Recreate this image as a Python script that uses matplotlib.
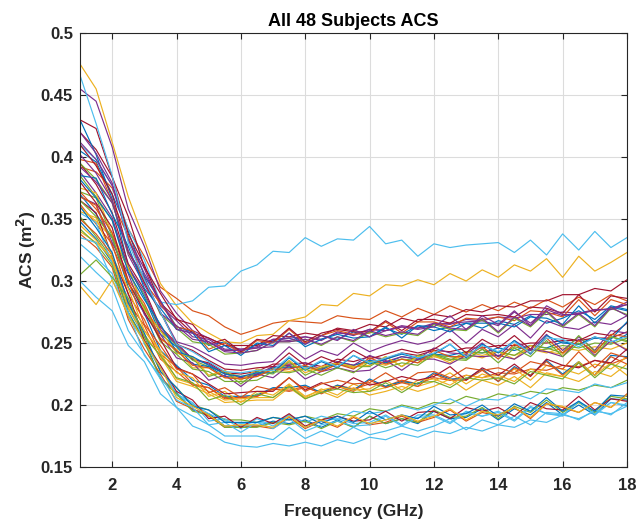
import matplotlib
matplotlib.use("Agg")
import matplotlib.pyplot as plt
from matplotlib.ticker import FuncFormatter

plt.rcParams['font.family'] = ['Liberation Sans', 'DejaVu Sans']

# Frequency grid (GHz)
freq = [1.0, 1.5, 2.0, 2.5, 3.0, 3.5, 4.0, 4.5, 5.0, 5.5, 6.0, 6.5, 7.0, 7.5, 8.0, 8.5,
        9.0, 9.5, 10.0, 10.5, 11.0, 11.5, 12.0, 12.5, 13.0, 13.5, 14.0, 14.5, 15.0, 15.5,
        16.0, 16.5, 17.0, 17.5, 18.0]

# ACS per subject, in units of 1e-3 m^2
s01 = [405,396,370,340,304,284,263,259,248,251,243,249,252,254,249,256,253,259,255,262,257,264,260,263,266,262,268,265,272,266,270,276,269,280,277]
s02 = [392,388,375,342,320,295,286,276,272,263,257,261,266,268,267,266,272,270,269,276,271,278,273,280,275,281,276,283,278,285,279,287,281,289,284]
s03 = [475,455,412,368,333,298,280,266,258,251,250,256,257,268,271,281,280,290,288,297,296,301,297,306,300,309,303,313,308,318,303,320,308,315,323]
s04 = [455,445,408,358,328,292,274,260,254,248,245,247,253,254,255,253,258,257,261,260,263,262,265,266,267,268,264,275,266,277,272,274,276,278,281]
s05 = [385,368,349,310,289,260,248,236,231,226,223,225,230,231,231,229,234,232,235,234,237,236,240,239,237,245,239,247,244,245,248,246,250,249,254]
s06 = [410,398,377,342,317,283,281,284,295,296,308,313,324,323,335,328,334,333,344,330,333,320,330,327,329,330,331,323,333,321,338,325,340,327,335]
s07 = [420,406,384,338,313,282,270,258,254,248,248,248,256,255,258,256,262,260,265,263,270,267,273,271,277,275,280,279,284,284,289,289,294,292,301]
s08 = [430,402,366,312,287,257,247,233,231,223,222,224,230,230,231,228,235,232,236,234,239,237,241,240,243,242,246,244,248,246,251,249,255,250,257]
s09 = [362,346,330,289,269,241,231,217,214,205,206,207,213,211,214,210,216,213,217,215,220,217,222,220,224,222,226,225,229,228,232,231,236,233,238]
s10 = [360,348,335,298,280,253,245,230,230,222,222,223,229,227,230,227,233,230,235,232,237,234,239,236,241,238,243,240,245,242,246,244,247,245,250]
s11 = [412,398,377,334,310,280,268,255,253,245,245,246,253,252,255,252,259,256,261,260,264,262,266,265,269,268,271,270,273,273,275,274,277,277,283]
s12 = [352,336,318,278,255,227,214,200,196,188,188,186,190,188,191,188,193,191,197,195,200,197,202,201,207,204,209,207,211,209,214,212,216,214,220]
s13 = [300,287,276,248,235,209,198,183,178,170,167,166,169,167,170,167,172,169,174,172,177,174,179,177,182,179,184,182,188,186,192,189,195,193,199]
s14 = [395,378,355,314,293,263,250,237,234,226,225,227,233,233,234,231,237,235,239,237,242,240,244,243,246,246,248,248,250,250,252,252,254,254,259]
s15 = [348,334,315,275,252,222,210,196,193,183,183,183,187,185,188,182,188,182,191,185,189,185,195,189,190,197,188,197,192,202,192,200,192,205,204]
s16 = [398,395,364,336,299,282,263,260,245,250,242,252,250,261,250,256,260,257,258,267,258,267,267,263,270,269,271,268,276,275,271,285,272,285,281]
s17 = [340,331,319,280,260,242,221,217,211,204,205,206,206,216,206,213,208,217,211,214,219,215,219,226,217,225,221,229,220,232,229,225,233,229,239]
s18 = [388,371,351,311,291,261,249,237,233,225,222,225,231,232,234,229,235,232,240,235,239,237,246,242,241,250,239,252,244,257,244,255,244,260,258]
s19 = [372,367,336,310,277,260,242,238,223,227,217,227,225,235,224,230,233,231,231,239,231,240,240,236,243,242,243,240,248,246,242,256,243,255,251]
s20 = [330,319,306,271,251,230,208,201,193,187,185,186,185,192,186,191,188,195,193,195,199,196,200,205,199,205,204,209,205,213,212,210,217,214,218]
s21 = [430,423,384,352,311,290,269,265,249,253,243,253,251,262,251,258,261,259,259,268,260,269,269,266,273,272,273,271,279,278,274,289,275,288,286]
s22 = [370,354,335,295,274,244,232,220,216,207,207,208,214,214,216,210,216,212,221,215,219,217,226,221,221,229,219,231,224,236,225,235,224,240,239]
s23 = [338,327,311,269,245,225,203,197,191,182,182,183,181,190,181,187,182,190,184,186,191,186,190,196,187,194,191,198,189,201,198,194,202,198,209]
s24 = [375,371,338,311,277,260,242,239,224,228,220,229,226,236,226,231,234,231,232,239,231,239,240,234,243,240,243,237,248,243,241,252,242,251,245]
s25 = [402,387,365,321,297,275,251,247,240,233,232,234,235,247,237,244,240,250,243,248,252,249,252,261,250,261,255,265,254,268,263,261,267,265,272]
s26 = [395,382,363,323,302,273,262,251,249,241,242,244,251,251,253,248,255,251,259,255,258,256,265,261,260,269,258,270,263,275,263,273,263,278,273]
s27 = [355,347,314,286,249,230,209,202,187,189,181,189,183,192,182,187,189,185,186,192,184,192,192,186,195,191,195,188,199,193,192,203,193,202,199]
s28 = [410,393,370,324,299,275,249,244,236,229,228,230,231,242,232,239,234,244,237,241,245,242,245,253,242,253,246,256,245,260,254,252,258,256,266]
s29 = [385,383,354,328,294,278,261,258,243,248,240,250,248,258,247,253,257,254,255,263,254,264,263,259,266,266,266,263,271,270,265,280,266,279,276]
s30 = [350,338,321,283,264,237,227,216,214,206,206,207,213,212,215,209,215,211,220,214,218,215,225,220,220,228,219,230,224,235,224,234,224,239,233]
s31 = [345,333,317,278,257,239,219,215,209,202,203,204,204,214,205,211,206,214,208,211,215,211,215,221,212,220,216,223,214,226,223,219,227,223,233]
s32 = [368,362,331,306,273,257,238,234,220,224,215,225,222,232,221,227,230,227,228,236,228,237,237,233,240,239,240,237,245,243,239,253,240,252,244]
s33 = [342,330,313,274,251,221,209,195,192,182,182,182,186,184,187,181,187,182,191,185,189,186,196,190,191,198,189,199,194,204,194,202,194,207,205]
s34 = [320,307,295,260,241,221,198,191,184,175,175,175,172,182,173,179,174,182,176,179,183,179,183,189,180,188,184,191,184,194,193,188,196,192,202]
s35 = [365,355,320,290,252,232,211,204,189,191,182,190,185,193,183,188,191,187,188,195,187,194,195,189,198,195,198,191,202,197,196,207,196,205,203]
s36 = [382,367,349,307,285,265,243,239,232,225,223,226,226,238,228,235,230,240,233,237,241,238,241,249,238,249,242,252,241,256,250,249,254,253,267]
s37 = [372,358,339,301,282,254,244,232,230,222,221,223,229,229,232,227,233,229,238,233,237,234,244,239,239,247,237,249,242,254,242,252,242,257,255]
s38 = [356,351,320,294,260,244,226,222,207,211,202,211,208,217,207,212,215,212,213,220,212,220,221,216,224,222,224,219,229,225,223,235,224,234,224]
s39 = [420,403,379,333,306,284,261,258,251,244,244,246,247,258,249,256,252,261,255,260,263,261,263,272,261,272,265,276,264,280,273,273,277,277,281]
s40 = [365,352,335,298,279,251,241,229,227,219,219,220,227,226,229,224,230,226,235,230,234,232,241,237,236,245,234,246,239,252,239,250,239,255,252]
s41 = [335,331,301,275,240,223,204,198,184,186,178,186,181,189,179,184,187,183,184,191,183,190,191,185,194,191,194,187,198,193,191,203,192,202,200]
s42 = [380,363,343,299,275,253,230,225,217,209,210,211,211,222,212,218,213,222,216,219,223,220,223,231,220,230,224,233,223,237,232,230,236,234,245]
s43 = [360,343,323,282,258,227,214,199,196,186,186,186,190,188,191,185,191,186,195,188,192,189,199,192,193,200,191,201,195,206,195,203,195,208,207]
s44 = [368,361,328,300,265,248,229,225,210,214,206,215,212,222,211,217,220,217,218,226,218,226,227,222,230,228,230,226,235,232,229,243,230,242,238]
s45 = [296,281,301,272,251,230,206,199,192,183,184,184,182,191,182,188,183,191,185,188,192,187,191,197,188,195,192,198,190,201,199,194,202,198,208]
s46 = [392,380,363,324,303,274,264,253,251,243,242,244,251,251,253,249,255,252,260,256,259,257,266,262,261,270,259,271,264,276,264,274,264,279,272]
s47 = [305,317,303,286,255,240,222,218,204,208,200,209,206,215,205,210,213,210,211,218,210,218,219,214,222,220,222,217,227,224,221,234,222,233,229]
s48 = [466,427,385,331,301,275,249,243,235,227,226,228,228,239,229,236,231,240,234,238,242,238,242,249,239,248,243,251,242,254,253,247,255,251,255]

subjects = [s01, s02, s03, s04, s05, s06, s07, s08, s09, s10, s11, s12, s13, s14, s15, s16,
            s17, s18, s19, s20, s21, s22, s23, s24, s25, s26, s27, s28, s29, s30, s31, s32,
            s33, s34, s35, s36, s37, s38, s39, s40, s41, s42, s43, s44, s45, s46, s47, s48]

colors = ['#0072BD', '#D95319', '#EDB120', '#7E2F8E', '#77AC30', '#4DBEEE', '#A2142F']

x_ticks = [2, 4, 6, 8, 10, 12, 14, 16, 18]
y_ticks = [0.15, 0.2, 0.25, 0.3, 0.35, 0.4, 0.45, 0.5]

fig = plt.figure(figsize=(6.43, 5.2), dpi=100)
ax = fig.add_axes([0.1244, 0.1019, 0.8507, 0.8346])

for i, s in enumerate(subjects):
    ax.plot(freq, [v / 1000.0 for v in s], color=colors[i % 7], lw=0.85)

ax.set_xlim(1, 18)
ax.set_ylim(0.15, 0.5)
ax.set_xticks(x_ticks)
ax.set_yticks(y_ticks)
ax.yaxis.set_major_formatter(FuncFormatter(lambda v, p: '%g' % round(v, 3)))
ax.grid(True, color='#dcdcdc', lw=0.8)
ax.set_axisbelow(True)
for sp in ax.spines.values():
    sp.set_color('#262626')
    sp.set_linewidth(0.8)
ax.tick_params(direction='in', length=4, width=0.8, top=True, right=True,
               labelsize=12, colors='#262626')
ax.tick_params(axis='x', pad=8)
ax.tick_params(axis='y', pad=5)
for lab in ax.get_xticklabels() + ax.get_yticklabels():
    lab.set_fontweight('bold')
ax.set_title('All 48 Subjects ACS', fontsize=13, fontweight='bold', pad=5)
ax.set_xlabel('Frequency (GHz)', fontsize=12.5, fontweight='bold', color='#262626', labelpad=8)
ax.set_ylabel('ACS (m$^\\mathbf{2}$)', fontsize=12.5, fontweight='bold', color='#262626', labelpad=2)

fig.savefig('out.png', dpi=100)
